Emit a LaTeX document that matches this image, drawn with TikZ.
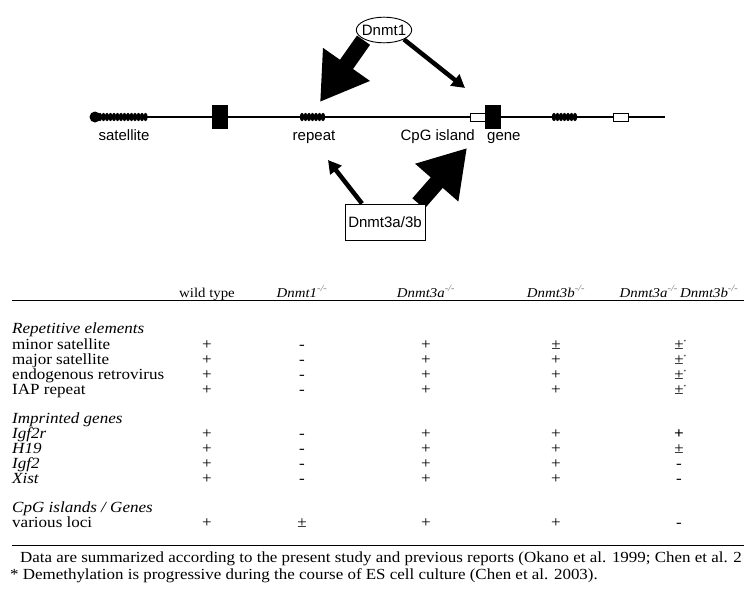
\documentclass[tikz,border=0pt]{standalone}
\usepackage{fontspec}
\setmainfont{Liberation Serif}
\setsansfont{Liberation Sans}
\newfontfamily\tabFont[FakeStretch=1.1]{Liberation Serif}
\usetikzlibrary{arrows.meta, shapes.geometric, backgrounds, positioning}
\usepackage{xcolor}
\tikzset{
    % node style
    every node/.style = {inner sep=0pt},
    % strand style
    dna/.style = {line width=2.5pt},
    % abstract base element style
    base/.style = {draw, rectangle, line width=1pt},
    % special element styles (inherited from base style)
    blackBox/.style = {base, fill=black, minimum width=15pt, minimum height=23pt},
    whiteBox/.style = {base, fill=white, minimum width=15pt, minimum height=8pt},
    satDot/.style = {circle, fill=black, minimum size=11pt},
    % labels and enzymes
    dnaLabel/.style = {anchor=base, font=\sffamily\fontsize{15}{18}\selectfont},
    enzyme/.style = {draw, fill=white, line width=0.9pt, font=\sffamily\fontsize{15}{18}\selectfont},
    % arrow styles
    bigArrow/.style = {line width=16pt, -{Triangle[length=46pt, width=54pt]}},
    thinArrow/.style = {line width=4.5pt, -{Triangle[length=13pt, width=14pt]}},
    % table styles
    colHead/.style = {anchor=base, font=\tabFont\itshape\fontsize{13.5}{15}\selectfont},
    rowHead/.style = {anchor=base west, font=\tabFont\itshape\fontsize{15.5}{16}\selectfont},
    rowName/.style = {anchor=base west, font=\tabFont\fontsize{15.5}{16}\selectfont},
    entry/.style = {anchor=base, font=\tabFont\fontsize{15.5}{16}\selectfont},
    footNote/.style = {anchor=base west, font=\tabFont\fontsize{15.4}{16}\selectfont},
    rule/.style = {line width=1pt}
}
\newcommand{\dnaCoil}[3]{\foreach \x in {#1,#2,...,#3} {\fill (\x,117) ellipse [x radius=2.2pt, y radius=4.2pt];}}
\newcommand{\pmStar}{±\rlap{\textsuperscript{\tiny *}}}
\newcommand{\ko}{\textsuperscript{\textcolor{black!55}{-/-}}}

\begin{document}
\begin{tikzpicture}[x=1pt, y=-1pt]
        \useasboundingbox (0,0) rectangle (744,613);
        % place the strand and its elements
        \node[satDot] (satDot) at (95,117) {};
        \coordinate (strandEnd) at (665,117);
        \draw[dna] (satDot) -- (strandEnd);
        \dnaCoil{100}{103.5}{148}
        \dnaCoil{302}{305.5}{326}
        \dnaCoil{554}{557.5}{576}
        \node[blackBox] (block) at (219.5,116.5) {};
        \node[whiteBox] (cpg) at (477.5,117) {};
        \node[blackBox] (gene) at (492.5,116.5) {};
        \node[whiteBox] (cpgRight) at (620.5,117) {};
        % labels under the strand
        \node[dnaLabel] (satLabel) at (124,140) {satellite};
        \node[dnaLabel] (repLabel) at (314,140) {repeat};
        \node[dnaLabel, anchor=base east] (cpgLabel) at (475,140) {CpG island};
        \node[dnaLabel, anchor=base west] (geneLabel) at (487,140) {gene};
        % enzymes
        \node[enzyme, ellipse, inner xsep=-2.5pt, inner ysep=3.85pt] (dnmt1) at (384,30) {Dnmt1};
        \node[enzyme, minimum width=80pt, minimum height=36pt] (dnmt3) at (385,222) {Dnmt3a/3b};
        % arrow tips
        \coordinate (repTop) at (320,102);
        \coordinate (cpgTop) at (465,88);
        \coordinate (repBottom) at (328,160);
        \coordinate (cpgBottom) at (467,148);
        % draw the arrows behind the enzymes
        \begin{scope}[on background layer]
            \draw[bigArrow, shorten <=1pt] (dnmt1.south west) -- (repTop);
            \draw[thinArrow] (dnmt1.south east) -- (cpgTop);
            \draw[thinArrow] ([xshift=-23pt]dnmt3.north) -- (repBottom);
            \draw[bigArrow] ([xshift=-7pt]dnmt3.north east) -- (cpgBottom);
        \end{scope}
        % table header
        \node[colHead] (wt) at (207,297) {\upshape wild type};
        \node[colHead] (d1) at (302,297) {Dnmt1\ko};
        \node[colHead] (d3a) at (426,297) {Dnmt3a\ko};
        \node[colHead] (d3b) at (556,297) {Dnmt3b\ko};
        \node[colHead] (dko) at (679,297) {Dnmt3a\ko\,Dnmt3b\ko};
        \coordinate (topRuleL) at (12,300);
        \coordinate (topRuleR) at (744,300);
        \draw[rule] (topRuleL) -- (topRuleR);
        % table rows
        \node[rowHead] (repHead) at (12,333) {Repetitive elements};
        \node[rowName] (minSat) at (12,349) {minor satellite};
        \node[rowName] (majSat) at (12,364) {major satellite};
        \node[rowName] (erv) at (12,379) {endogenous retrovirus};
        \node[rowName] (iap) at (12,394) {IAP repeat};
        \node[rowHead] (impHead) at (12,423) {Imprinted genes};
        \node[rowHead] (igfTwoR) at (12,438) {Igf2r};
        \node[rowHead] (hNineteen) at (12,453) {H19};
        \node[rowHead] (igfTwo) at (12,468) {Igf2};
        \node[rowHead] (xist) at (12,483) {Xist};
        \node[rowHead] (cpgHead) at (12,512) {CpG islands / Genes};
        \node[rowName] (loci) at (12,527) {various loci};
        % table entries
        \foreach \row/\a/\b/\c/\d/\e in {minSat/+/-/+/±/\pmStar, majSat/+/-/+/+/\pmStar,
                erv/+/-/+/+/\pmStar, iap/+/-/+/+/\pmStar, igfTwoR/+/-/+/+/\textbf{+},
                hNineteen/+/-/+/+/±, igfTwo/+/-/+/+/-, xist/+/-/+/+/-, loci/+/±/+/+/-} {
            \node[entry] (\row-wt) at (\row.base -| wt) {\a};
            \node[entry] (\row-d1) at (\row.base -| d1) {\b};
            \node[entry] (\row-d3a) at (\row.base -| d3a) {\c};
            \node[entry] (\row-d3b) at (\row.base -| d3b) {\d};
            \node[entry] (\row-dko) at (\row.base -| dko) {\e};
        }
        % bottom rule and notes
        \coordinate (botRuleL) at (12,545);
        \coordinate (botRuleR) at (744,545);
        \draw[rule] (botRuleL) -- (botRuleR);
        \node[footNote] (noteData) at (20,562) {Data are summarized according to the present study and previous reports (Okano et al. 1999; Chen et al. 2};
        \node[footNote] (noteStar) at (10,579) {* Demethylation is progressive during the course of ES cell culture (Chen et al. 2003).};
    \end{tikzpicture}
\end{document}
